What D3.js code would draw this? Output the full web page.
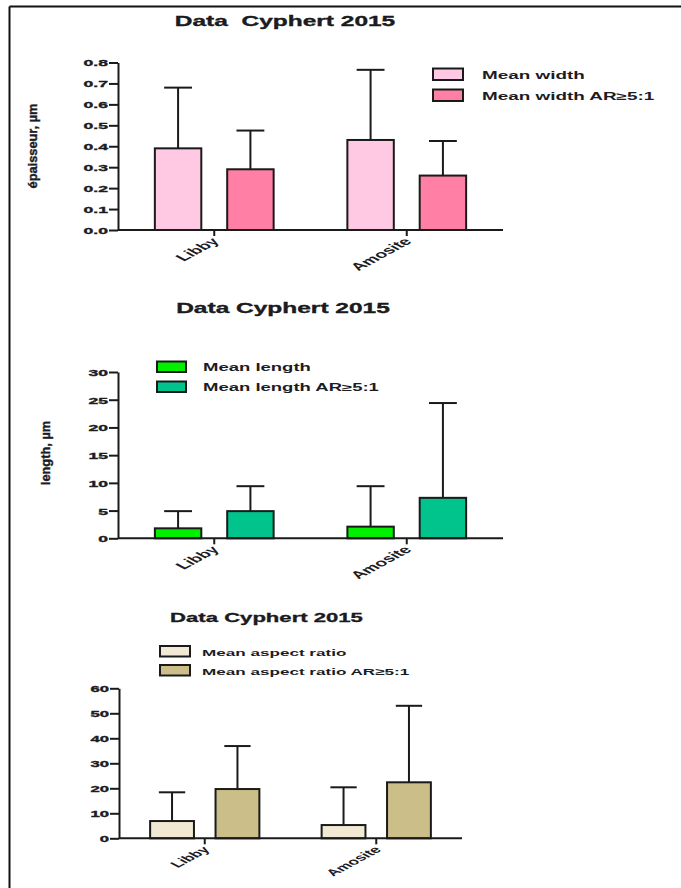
<!DOCTYPE html>
<html>
<head>
<meta charset="utf-8">
<script src="https://cdn.jsdelivr.net/npm/d3@7"></script>
<style>
  body { margin: 0; background: #fff; }
  svg text { font-family: "Liberation Sans", Arial, sans-serif; font-weight: bold; fill: #1c1c24; }
</style>
</head>
<body>
<div id="viz"></div>
<script>
// data (mean and SD per category)
const categories = ['Libby', 'Amosite'];

const widthSeries = ['Mean width', 'Mean width AR≥5:1'];
const widthMean = [[0.39, 0.29], [0.43, 0.26]];
const widthSD = [[0.29, 0.185], [0.335, 0.165]];
const widthTicks = [0, 0.1, 0.2, 0.3, 0.4, 0.5, 0.6, 0.7, 0.8];

const lengthSeries = ['Mean length', 'Mean length AR≥5:1'];
const lengthMean = [[1.8, 4.9], [2.1, 7.3]];
const lengthSD = [[3.1, 4.5], [7.3, 17.1]];
const lengthTicks = [0, 5, 10, 15, 20, 25, 30];

const aspectSeries = ['Mean aspect ratio', 'Mean aspect ratio AR≥5:1'];
const aspectMean = [[6.9, 19.7], [5.3, 22.4]];
const aspectSD = [[11.5, 17.2], [15.1, 30.6]];
const aspectTicks = [0, 10, 20, 30, 40, 50, 60];

const W = 681, H = 888;
const SX = 1.85; // the original figure is stretched sideways

const svg = d3.select('#viz').append('svg')
    .attr('width', W)
    .attr('height', H);

// frame (only top and left edges are visible)
svg.append('line').attr('x1', 9.5).attr('y1', 6.5).attr('x2', W).attr('y2', 6.5)
    .attr('stroke', '#111').attr('stroke-width', 2);
svg.append('line').attr('x1', 9.5).attr('y1', 6.5).attr('x2', 9.5).attr('y2', H)
    .attr('stroke', '#111').attr('stroke-width', 2);

const drawPanel = (cfg) => {
  const g = svg.append('g');

  const x0 = d3.scaleBand()
      .domain(categories)
      .range([cfg.left, cfg.right])
      .paddingInner(cfg.groupPad)
      .paddingOuter(cfg.groupPad / 2);

  const x1 = d3.scaleBand()
      .domain(cfg.series)
      .range([0, x0.bandwidth()])
      .paddingInner(cfg.barPad);

  const y = d3.scaleLinear()
      .domain([0, d3.max(cfg.ticks)])
      .range([cfg.bottom, cfg.top]);

  const rows = [];
  categories.forEach((c, i) => {
    cfg.series.forEach((s, j) => {
      rows.push({cat: c, ser: s, j: j, mean: cfg.mean[i][j], sd: cfg.sd[i][j]});
    });
  });

  // error bars (upper only), drawn before bars
  const capHalf = x1.bandwidth() * 0.3;
  const eb = g.append('g');
  eb.selectAll('line.v').data(rows).join('line')
      .attr('class', 'v')
      .attr('x1', d => x0(d.cat) + x1(d.ser) + x1.bandwidth() / 2)
      .attr('x2', d => x0(d.cat) + x1(d.ser) + x1.bandwidth() / 2)
      .attr('y1', d => y(d.mean))
      .attr('y2', d => y(d.mean + d.sd))
      .attr('stroke', '#1a1a1a').attr('stroke-width', 2);
  eb.selectAll('line.c').data(rows).join('line')
      .attr('class', 'c')
      .attr('x1', d => x0(d.cat) + x1(d.ser) + x1.bandwidth() / 2 - capHalf)
      .attr('x2', d => x0(d.cat) + x1(d.ser) + x1.bandwidth() / 2 + capHalf)
      .attr('y1', d => y(d.mean + d.sd))
      .attr('y2', d => y(d.mean + d.sd))
      .attr('stroke', '#1a1a1a').attr('stroke-width', 2);

  g.append('g').selectAll('rect').data(rows).join('rect')
      .attr('x', d => x0(d.cat) + x1(d.ser))
      .attr('y', d => y(d.mean))
      .attr('width', x1.bandwidth())
      .attr('height', d => y(0) - y(d.mean))
      .attr('fill', d => cfg.colors[d.j])
      .attr('stroke', '#1a1a1a')
      .attr('stroke-width', 2);

  // y axis
  const yAxis = g.append('g')
      .attr('transform', `translate(${cfg.left}, 0)`)
      .call(d3.axisLeft(y).tickValues(cfg.ticks).tickFormat(cfg.fmt).tickSize(9).tickSizeOuter(0));
  yAxis.select('.domain').attr('stroke', '#1a1a1a').attr('stroke-width', 2);
  yAxis.selectAll('.tick line').attr('stroke', '#1a1a1a').attr('stroke-width', 2);
  yAxis.selectAll('.tick text')
      .attr('x', 0)
      .attr('dy', '0.36em')
      .attr('transform', `translate(-10, 0) scale(${SX}, 1)`)
      .style('font-size', cfg.tickFont + 'px')
      .attr('fill', '#1c1c24')
      .attr('stroke', '#1c1c24')
      .attr('stroke-width', 0.35);

  // x axis
  const xAxis = g.append('g')
      .attr('transform', `translate(0, ${cfg.bottom})`)
      .call(d3.axisBottom(x0).tickSize(6).tickSizeOuter(0));
  xAxis.select('.domain').attr('d', `M${cfg.left},0H${cfg.right}`)
      .attr('stroke', '#1a1a1a').attr('stroke-width', 2);
  xAxis.selectAll('.tick line').attr('stroke', '#1a1a1a').attr('stroke-width', 2);
  xAxis.selectAll('.tick text')
      .attr('x', 0).attr('y', 0).attr('dy', 0)
      .attr('text-anchor', 'end')
      .attr('transform', `translate(6, 12) scale(${SX}, 1) rotate(-45)`)
      .style('font-size', cfg.catFont + 'px')
      .attr('fill', '#1c1c24');

  // title
  g.append('text')
      .attr('transform', `translate(${cfg.titleX}, ${cfg.titleY}) scale(${cfg.titleSX}, 1)`)
      .attr('text-anchor', 'middle')
      .style('font-size', cfg.titleFont + 'px')
      .style('white-space', 'pre')
      .attr('fill', '#111')
      .attr('stroke', '#111')
      .attr('stroke-width', 0.3)
      .text(cfg.title);

  // y label
  if (cfg.yLabel) {
    g.append('text')
        .attr('transform', `translate(${cfg.yLabelX}, ${cfg.yLabelY}) rotate(-90) scale(1.35, 1.35)`)
        .attr('text-anchor', 'middle')
        .style('font-size', '9.5px')
        .attr('stroke', '#1c1c24')
        .attr('stroke-width', 0.3)
        .text(cfg.yLabel);
  }

  // legend
  const leg = g.append('g');
  cfg.series.forEach((s, j) => {
    leg.append('rect')
        .attr('x', cfg.legX)
        .attr('y', cfg.legY + j * cfg.legStep)
        .attr('width', cfg.swW)
        .attr('height', cfg.swH)
        .attr('fill', cfg.colors[j])
        .attr('stroke', '#1a1a1a')
        .attr('stroke-width', 2);
    leg.append('text')
        .attr('transform', `translate(${cfg.legTextX}, ${cfg.legY + j * cfg.legStep + cfg.swH - 1}) scale(${cfg.legSX}, 1)`)
        .style('font-size', cfg.legFont + 'px')
        .text(s);
  });
};

drawPanel({
  series: widthSeries, mean: widthMean, sd: widthSD, ticks: widthTicks,
  fmt: d3.format('.1f'),
  colors: ['#ffc9e3', '#ff7fa5'],
  left: 118, right: 503, top: 62.5, bottom: 230,
  groupPad: 0.383, barPad: 0.358,
  tickFont: 9.5, catFont: 10.5,
  title: 'Data  Cyphert 2015', titleX: 285, titleY: 26, titleFont: 14, titleSX: 1.75,
  yLabel: 'épaisseur, µm', yLabelX: 37, yLabelY: 146,
  legX: 433, legY: 68.5, legStep: 21, swW: 30, swH: 11.5,
  legTextX: 482, legFont: 10.5, legSX: 1.8
});

drawPanel({
  series: lengthSeries, mean: lengthMean, sd: lengthSD, ticks: lengthTicks,
  fmt: d3.format('d'),
  colors: ['#00f000', '#00c48c'],
  left: 118, right: 503, top: 372, bottom: 538.3,
  groupPad: 0.383, barPad: 0.358,
  tickFont: 9.5, catFont: 10.5,
  title: 'Data Cyphert 2015', titleX: 283, titleY: 313, titleFont: 14, titleSX: 1.75,
  yLabel: 'length, µm', yLabelX: 50, yLabelY: 453,
  legX: 157, legY: 361.5, legStep: 20, swW: 29, swH: 10.5,
  legTextX: 203, legFont: 10, legSX: 1.85
});

drawPanel({
  series: aspectSeries, mean: aspectMean, sd: aspectSD, ticks: aspectTicks,
  fmt: d3.format('d'),
  colors: ['#f1e9d3', '#cbbe89'],
  left: 119, right: 462, top: 688.3, bottom: 838.3,
  groupPad: 0.363, barPad: 0.33,
  tickFont: 9, catFont: 9.5,
  title: 'Data Cyphert 2015', titleX: 266.5, titleY: 622, titleFont: 13, titleSX: 1.7,
  yLabel: null,
  legX: 160, legY: 646, legStep: 19, swW: 30, swH: 10.5,
  legTextX: 202, legFont: 9.5, legSX: 1.8
});
</script>
</body>
</html>
